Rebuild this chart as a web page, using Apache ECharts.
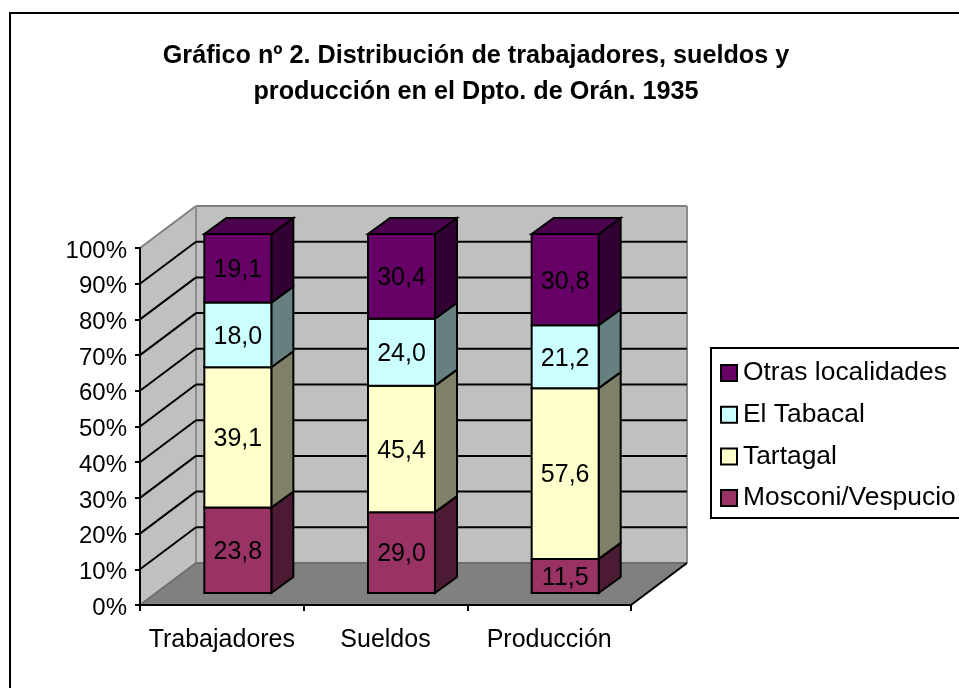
<!DOCTYPE html>
<html><head><meta charset="utf-8">
<style>html,body{margin:0;padding:0;background:#fff}#c{width:959px;height:688px}</style>
<script src="https://cdn.jsdelivr.net/npm/echarts@6/dist/echarts.min.js"></script>
</head><body><div id="c"></div>
<script>
var categories = ['Trabajadores', 'Sueldos', 'Producción'];
var mosconi = [23.8, 29.0, 11.5];
var tartagal = [39.1, 45.4, 57.6];
var tabacal = [18.0, 24.0, 21.2];
var otras = [19.1, 30.4, 30.8];
var layerNames = ['Mosconi/Vespucio', 'Tartagal', 'El Tabacal', 'Otras localidades'];
var legendOrder = ['Otras localidades', 'El Tabacal', 'Tartagal', 'Mosconi/Vespucio'];
var gridTicks = [10, 20, 30, 40, 50, 60, 70, 80, 90];
var titleText = 'Gráfico nº 2. Distribución de trabajadores, sueldos y\nproducción en el Dpto. de Orán. 1935';

var layers = [mosconi, tartagal, tabacal, otras];
var frontColors = ['#993366', '#FFFFCC', '#CCFFFF', '#660066'];
var sideColors = ['#4D1A33', '#808066', '#668080', '#330033'];
var topColor = '#4D004D';
var FONT = '"Liberation Sans", Arial, sans-serif';
var WX = 56, WY = -42;            // depth of the floor
var BX = 16, BY = -12;            // bar front offset from the front plane
var DX = 22, DY = -16;            // bar depth
var HALF = 33.5;                  // half of bar width
var STRETCH = 1.0056;             // the bars stand slightly taller than the axis

var totals = categories.map(function (_, i) {
  return layers.reduce(function (s, l) { return s + l[i]; }, 0);
});
var starts = categories.map(function () { return 0; });
var layerData = layers.map(function (l) {
  return l.map(function (v, i) {
    var a = starts[i], b = a + v / totals[i] * 100;
    starts[i] = b;
    return [i, a, b, v];
  });
});

function poly(points, fill, stroke, w) {
  return { type: 'polygon', shape: { points: points },
    style: { fill: fill, stroke: stroke || null, lineWidth: w || 0, lineJoin: 'miter' } };
}
function seg(x1, y1, x2, y2, color, w) {
  return { type: 'line', shape: { x1: x1, y1: y1, x2: x2, y2: y2 },
    style: { stroke: color, lineWidth: w } };
}

function renderWalls(params, api) {
  var r = params.coordSys, L = r.x, R = r.x + r.width, T = r.y, B = r.y + r.height;
  var kids = [
    poly([[L, B], [L + WX, B + WY], [L + WX, T + WY], [L, T]], '#C0C0C0'),
    poly([[L + WX, B + WY], [R + WX, B + WY], [R + WX, T + WY], [L + WX, T + WY]], '#C0C0C0'),
    poly([[L, B], [R, B], [R + WX, B + WY], [L + WX, B + WY]], '#808080'),
    seg(L, T, L + WX, T + WY, '#808080', 2),
    seg(L + WX, T + WY, R + WX, T + WY, '#808080', 2),
    seg(L + WX, T + WY, L + WX, B + WY, '#8C8C8C', 2),
    seg(R + WX, T + WY, R + WX, B + WY, '#8C8C8C', 2),
    seg(L, B, L + WX, B + WY, '#6E6E6E', 2),
    seg(L + WX, B + WY, R + WX, B + WY, '#6E6E6E', 2),
    seg(R, B, R + WX, B + WY, '#000', 2)
  ];
  return { type: 'group', children: kids };
}
function renderGrid(params, api) {
  var r = params.coordSys, L = r.x, R = r.x + r.width;
  var y = api.coord([0, api.value(1)])[1];
  return { type: 'group', children: [
    seg(L, y, L + WX, y + WY, '#000', 2),
    seg(L + WX, y + WY, R + WX, y + WY, '#000', 2)
  ] };
}
function makeBarRender(k) {
  return function (params, api) {
    var i = api.value(0);
    var base = api.coord([i, 0])[1];
    var p0 = api.coord([i, api.value(1)]), p1 = api.coord([i, api.value(2)]);
    var x0 = p0[0] + BX - HALF, x1 = p0[0] + BX + HALF;
    var yb = base + (p0[1] - base) * STRETCH + BY, yt = base + (p1[1] - base) * STRETCH + BY;
    var kids = [
      poly([[x1, yb], [x1 + DX, yb + DY], [x1 + DX, yt + DY], [x1, yt]], sideColors[k], '#000', 2),
      poly([[x0, yb], [x1, yb], [x1, yt], [x0, yt]], frontColors[k], '#000', 2)
    ];
    if (k === layers.length - 1) {
      kids.push(poly([[x0, yt], [x1, yt], [x1 + DX, yt + DY], [x0 + DX, yt + DY]], topColor, '#000', 2));
    }
    kids.push({ type: 'text', style: {
      text: api.value(3).toFixed(1).replace('.', ','), x: (x0 + x1) / 2, y: (yb + yt) / 2 + 2,
      align: 'center', verticalAlign: 'middle', font: '25px ' + FONT, fill: '#000' } });
    return { type: 'group', children: kids };
  };
}

var series = [
  { type: 'custom', name: '_walls', silent: true, z: 1, renderItem: renderWalls, data: [[0, 0]], clip: false, encode: { x: 0, y: 1 } },
  { type: 'custom', name: '_grid', silent: true, z: 2, renderItem: renderGrid, clip: false, encode: { x: 0, y: 1 },
    data: gridTicks.map(function (t) { return [0, t]; }) }
];
layerNames.forEach(function (n, k) {
  series.push({ type: 'custom', name: n, z: 3 + k, clip: false, renderItem: makeBarRender(k),
    itemStyle: { color: frontColors[k] },
    encode: { x: 0, y: [1, 2] }, data: layerData[k] });
});

var chart = echarts.init(document.getElementById('c'), null, { renderer: 'canvas' });
chart.setOption({
  animation: false,
  backgroundColor: '#fff',
  title: { text: titleText, left: 471, top: 33, textAlign: 'center',
    textStyle: { fontFamily: FONT, fontSize: 25.2, fontWeight: 'bold', color: '#000', lineHeight: 36 } },
  grid: { left: 140, top: 248, width: 491, height: 357, containLabel: false },
  xAxis: { type: 'category', data: categories, boundaryGap: true,
    axisLine: { lineStyle: { color: '#000', width: 2 } },
    axisTick: { show: true, alignWithLabel: false, length: 6, lineStyle: { color: '#000', width: 2 } },
    axisLabel: { color: '#000', fontFamily: FONT, fontSize: 25, margin: 23, interval: 0 },
    splitLine: { show: false }, z: 10 },
  yAxis: { type: 'value', min: 0, max: 100, interval: 10,
    axisLine: { show: true, lineStyle: { color: '#000', width: 2 } },
    axisTick: { show: true, length: 5, lineStyle: { color: '#000', width: 2 } },
    axisLabel: { margin: 13, formatter: '{a|{value}%}',
      rich: { a: { color: '#000', fontFamily: FONT, fontSize: 24, padding: [6, 0, 0, 0] } } },
    splitLine: { show: false }, z: 10 },
  legend: { data: legendOrder, orient: 'vertical', left: 720, top: 359, itemWidth: 16, itemHeight: 16,
    itemGap: 13.7, padding: 0, icon: 'rect',
    selectedMode: false,
    itemStyle: { borderColor: '#000', borderWidth: 2 },
    textStyle: { fontFamily: FONT, fontSize: 26.4, color: '#000', padding: [0, 0, 0, 1], lineHeight: 28 } },
  graphic: [
    { type: 'rect', silent: true, z: -1, shape: { x: 10, y: 13, width: 1100, height: 900 },
      style: { fill: null, stroke: '#000', lineWidth: 2 } },
    { type: 'rect', silent: true, z: -1, shape: { x: 711, y: 348, width: 400, height: 170 },
      style: { fill: '#fff', stroke: '#000', lineWidth: 2 } }
  ],
  series: series
});
</script></body></html>
